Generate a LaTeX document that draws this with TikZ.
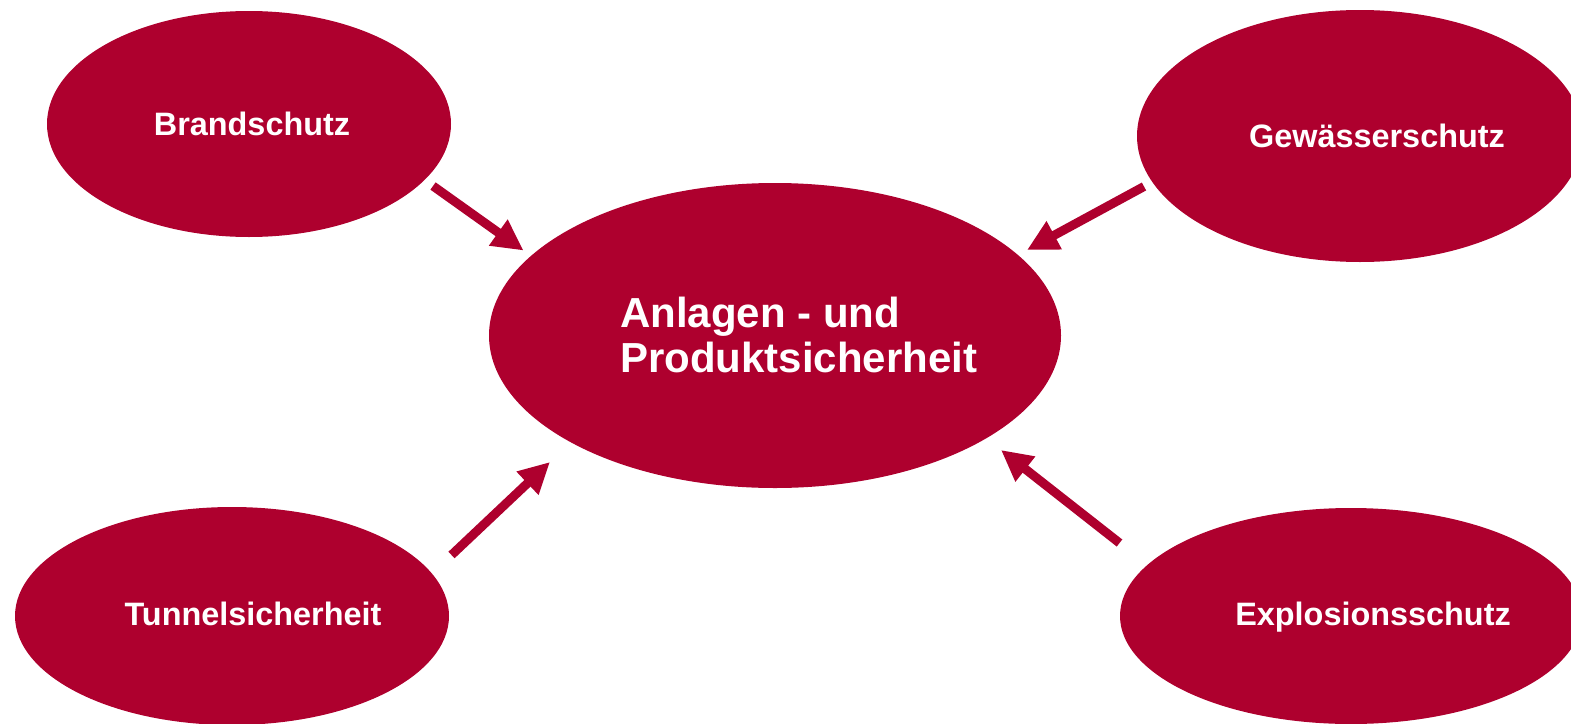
\documentclass[tikz,border=0pt]{standalone}
\usepackage{fontspec}
\setmainfont{Liberation Sans}
\usetikzlibrary{shapes.geometric,arrows.meta}
\definecolor{crimson}{RGB}{174,0,46}
\begin{document}
\begin{tikzpicture}[x=1pt,y=-1pt,
  blob/.style={ellipse,fill=crimson,draw=none,inner sep=0pt},
  lbl/.style={text=white,font=\bfseries\fontsize{32.4}{36}\selectfont,inner sep=0pt,anchor=base},
  link/.style={draw=crimson,line width=9pt,line cap=butt,
    -{Triangle[length=31pt,width=30pt]}}]
\useasboundingbox (0,0) rectangle (1571,723);

% ellipses
\node[blob,minimum width=404pt,minimum height=226pt] (brand) at (249,124) {};
\node[blob,minimum width=572pt,minimum height=305pt] (core) at (775,335.5) {};
\node[blob,minimum width=446pt,minimum height=252pt] (water) at (1360,136) {};
\node[blob,minimum width=434pt,minimum height=218pt] (tunnel) at (232,616) {};
\node[blob,minimum width=462pt,minimum height=216pt] (explo) at (1351,616) {};

% labels
\node[lbl] (tBrand) at (252,135.6) {Brandschutz};
\node[lbl] (tWater) at (1377,147.6) {Gewässerschutz};
\node[lbl] (tTunnel) at (253,625.6) {Tunnelsicherheit};
\node[lbl] (tExplo) at (1373,625.6) {Explosionsschutz};
\node[text=white,font=\bfseries\fontsize{42}{45}\selectfont,inner sep=0pt,
  align=left,anchor=base west] (tCore) at (620,372) {Anlagen - und\\Produktsicherheit};

% arrow ends
\coordinate (b0) at (433,186);
\coordinate (b1) at (523.5,250.5);
\coordinate (w0) at (1144,186.5);
\coordinate (w1) at (1027,250);
\coordinate (t0) at (451.5,555);
\coordinate (t1) at (550,462);
\coordinate (e0) at (1119.5,543);
\coordinate (e1) at (1001,450);

\draw[link] (b0) -- (b1);
\draw[link] (w0) -- (w1);
\draw[link] (t0) -- (t1);
\draw[link] (e0) -- (e1);
\end{tikzpicture}
\end{document}
